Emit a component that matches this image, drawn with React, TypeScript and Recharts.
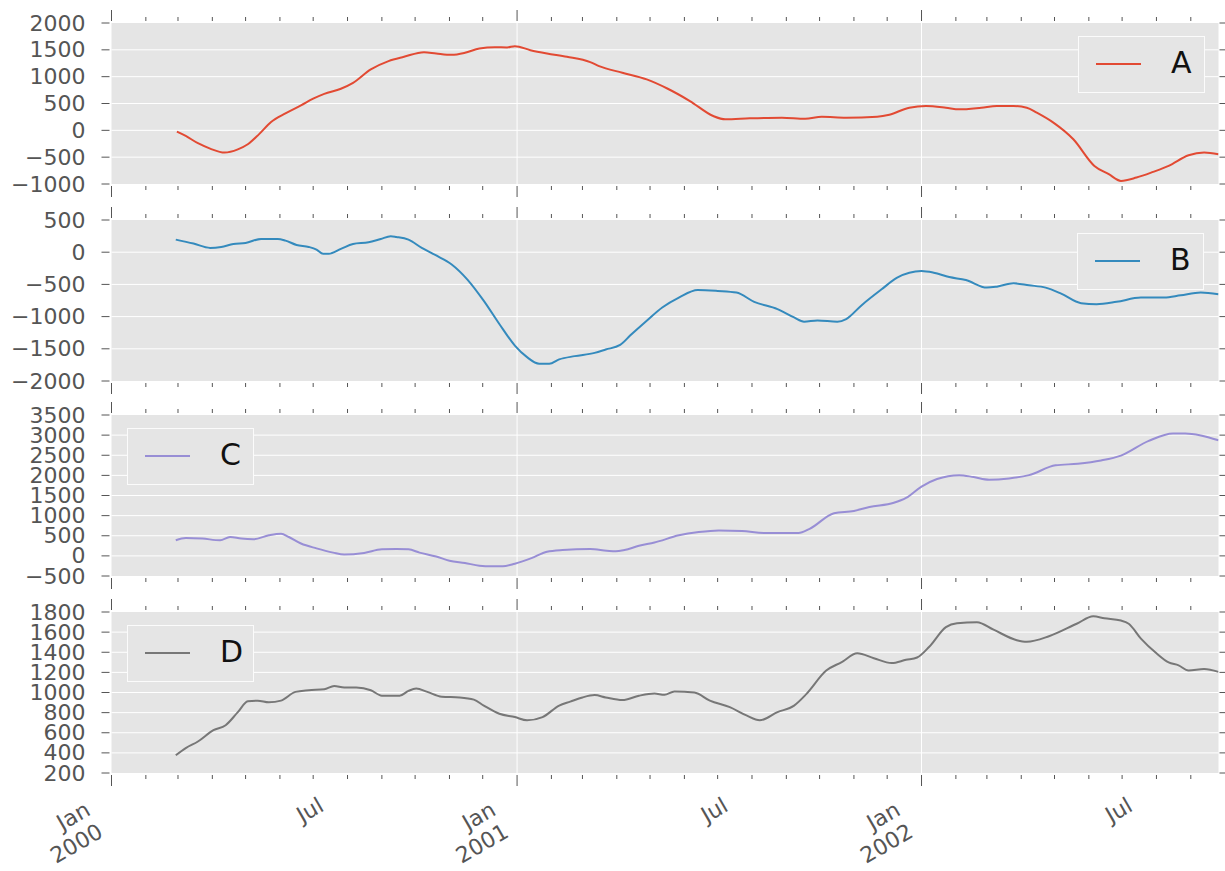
import React from 'react';
import { LineChart, Line, XAxis, YAxis, CartesianGrid, Legend } from 'recharts';

// ---------- data (day offsets from 2000-01-01, rolling values) ----------
const seriesNames = ['A', 'B', 'C', 'D'];
const seriesColors = ['#E24A33', '#348ABD', '#988ED5', '#777777'];

const daysA = [59, 67, 78, 89, 102, 114, 123, 133, 144, 157, 171, 182, 192, 207, 218, 234, 250, 264, 282, 293, 307, 319, 332, 346, 357, 364, 378, 393, 411, 432, 440, 461, 483, 502, 522, 543, 554, 576, 605, 626, 641, 663, 691, 702, 720, 735, 753, 765, 785, 799, 814, 826, 835, 850, 868, 887, 900, 911, 925, 940, 954, 972, 986, 999];
const valuesA = [-25, -105, -240, -340, -415, -355, -260, -75, 155, 316, 465, 590, 680, 775, 885, 1135, 1290, 1370, 1457, 1432, 1407, 1445, 1525, 1550, 1544, 1569, 1494, 1432, 1370, 1271, 1197, 1073, 949, 775, 546, 267, 205, 223, 236, 217, 254, 236, 254, 291, 422, 453, 422, 391, 422, 453, 453, 422, 329, 143, -167, -663, -818, -942, -880, -775, -663, -465, -415, -446];

const daysB = [58, 74, 89, 99, 110, 121, 135, 150, 157, 167, 178, 185, 191, 196, 207, 218, 232, 243, 252, 257, 268, 280, 293, 307, 321, 336, 350, 364, 375, 386, 395, 404, 418, 436, 446, 459, 468, 483, 497, 512, 529, 547, 564, 580, 601, 616, 625, 637, 655, 663, 677, 695, 709, 731, 742, 756, 771, 790, 799, 814, 828, 843, 857, 875, 889, 907, 929, 950, 965, 983, 999];
const valuesB = [195, 134, 67, 82, 128, 144, 206, 206, 180, 113, 82, 41, -26, -26, 51, 128, 154, 206, 247, 236, 195, 67, -51, -190, -421, -756, -1115, -1450, -1630, -1732, -1732, -1665, -1614, -1563, -1511, -1440, -1295, -1064, -858, -704, -586, -601, -627, -771, -884, -1013, -1079, -1059, -1079, -1038, -822, -576, -396, -293, -319, -386, -432, -550, -535, -483, -514, -550, -643, -792, -807, -771, -704, -704, -668, -627, -653];

const daysC = [58, 67, 82, 98, 107, 117, 128, 142, 153, 160, 171, 185, 200, 210, 228, 244, 257, 268, 278, 293, 305, 319, 332, 343, 353, 364, 379, 393, 407, 432, 447, 455, 463, 476, 490, 512, 530, 548, 569, 591, 620, 630, 652, 670, 684, 706, 717, 731, 745, 765, 778, 792, 810, 828, 852, 872, 893, 911, 936, 958, 969, 983, 999];
const valuesC = [388, 445, 429, 388, 469, 429, 413, 510, 550, 469, 307, 186, 81, 32, 73, 162, 170, 162, 81, -16, -121, -178, -243, -259, -259, -194, -57, 105, 146, 170, 129, 113, 146, 251, 332, 510, 591, 631, 615, 566, 566, 671, 1060, 1116, 1213, 1319, 1440, 1723, 1909, 2006, 1958, 1893, 1925, 2006, 2249, 2289, 2370, 2492, 2856, 3042, 3042, 2993, 2872];

const daysD = [58, 67, 78, 92, 103, 114, 123, 132, 142, 153, 166, 178, 192, 201, 210, 221, 234, 244, 260, 268, 275, 285, 298, 314, 327, 336, 350, 364, 375, 389, 404, 414, 425, 436, 446, 461, 476, 490, 499, 508, 526, 540, 558, 573, 585, 601, 616, 627, 645, 659, 673, 688, 704, 717, 727, 738, 753, 763, 781, 796, 817, 826, 846, 871, 886, 896, 911, 918, 929, 943, 954, 963, 972, 986, 999];
const valuesD = [376, 448, 513, 626, 675, 805, 912, 919, 902, 919, 1006, 1023, 1033, 1065, 1049, 1049, 1023, 968, 968, 1016, 1039, 1006, 958, 951, 929, 870, 789, 756, 724, 756, 870, 909, 951, 974, 951, 925, 968, 990, 977, 1010, 1000, 919, 854, 772, 724, 805, 870, 984, 1218, 1302, 1390, 1341, 1292, 1325, 1348, 1455, 1650, 1689, 1699, 1624, 1520, 1504, 1559, 1683, 1757, 1738, 1715, 1683, 1536, 1390, 1299, 1270, 1218, 1234, 1205];

const yTicksA = [-1000, -500, 0, 500, 1000, 1500, 2000];
const yTicksB = [-2000, -1500, -1000, -500, 0, 500];
const yTicksC = [-500, 0, 500, 1000, 1500, 2000, 2500, 3000, 3500];
const yTicksD = [200, 400, 600, 800, 1000, 1200, 1400, 1600, 1800];

const START_DATE = Date.UTC(2000, 0, 1);
const LAST_DAY = 999;
const DAY_MS = 86400000;
const majorGridDays = [366, 731]; // Jan 2001, Jan 2002
const monthLabelNames: Record<number, string> = { 0: 'Jan', 6: 'Jul' };

// ---------- layout ----------
const W = 1225;
const H = 871;
const PLOT_LEFT = 111.5;
const PLOT_RIGHT_PAD = 6.5;
const PLOT_H = 161;
const TOP_PAD = 20;
const TOP_AXIS_H = 16;
const BOTTOM_AXIS_H = 16;
const panelTops = [23, 220, 415, 612];
const legendLefts = [1078, 1077, 127, 127];
const FONT = "'DejaVu Sans', Verdana, sans-serif";
const TICK_COLOR = '#555555';

const monthTicks: number[] = [];
for (let y = 2000; y <= 2002; y++) {
  for (let m = 0; m < 12; m++) {
    const d = Math.round((Date.UTC(y, m, 1) - START_DATE) / DAY_MS);
    if (d <= LAST_DAY) monthTicks.push(d);
  }
}

const dateOf = (d: number) => new Date(START_DATE + d * DAY_MS);

const fmtY = (v: number) => (v < 0 ? '\u2212' + Math.abs(v) : String(v));

const XTick = (props: any) => {
  const { x, y, payload, side, labels } = props;
  const dt = dateOf(payload.value);
  const month = dt.getUTCMonth();
  const major = month === 0;
  const len = major ? 11 : 4;
  const dir = side === 'top' ? -1 : 1;
  const line = (
    <line x1={x} x2={x} y1={y + dir * 2} y2={y + dir * (2 + len)} stroke={TICK_COLOR} strokeWidth={1} />
  );
  let label = null;
  if (labels && monthLabelNames[month] !== undefined) {
    const name = monthLabelNames[month];
    if (major) {
      label = (
        <g transform={`translate(${x - 7},${y + 63}) rotate(-30)`}>
          <text x={0} y={-25.5} textAnchor="end" fontSize={22} fontFamily={FONT} fill={TICK_COLOR}>{name}</text>
          <text x={0} y={0} textAnchor="end" fontSize={22} fontFamily={FONT} fill={TICK_COLOR}>{String(dt.getUTCFullYear())}</text>
        </g>
      );
    } else {
      label = (
        <g transform={`translate(${x + 12},${y + 37}) rotate(-30)`}>
          <text x={0} y={0} textAnchor="end" fontSize={22} fontFamily={FONT} fill={TICK_COLOR}>{name}</text>
        </g>
      );
    }
  }
  return (
    <g>
      {line}
      {label}
    </g>
  );
};

const YTick = (props: any) => {
  const { x, y, payload, side } = props;
  if (side === 'right') {
    return <line x1={x + 1} x2={x + 7} y1={y} y2={y} stroke={TICK_COLOR} strokeWidth={1} />;
  }
  return (
    <g>
      <line x1={x - 2} x2={x - 10} y1={y} y2={y} stroke={TICK_COLOR} strokeWidth={1} />
      <text x={x - 26} y={y} textAnchor="end" dominantBaseline="central" fontSize={22} fontFamily={FONT} fill={TICK_COLOR}>
        {fmtY(payload.value)}
      </text>
    </g>
  );
};

const LegendBox = ({ name, color }: { name: string; color: string }) => (
  <div
    style={{
      width: 127,
      height: 57,
      boxSizing: 'border-box',
      border: '1px solid #fbfbfb',
      background: '#E5E5E5',
      position: 'relative',
    }}
  >
    <div style={{ position: 'absolute', left: 17, top: 26, width: 45, height: 2, background: color }} />
    <span
      style={{
        position: 'absolute',
        left: 92,
        top: 11,
        fontSize: 30,
        lineHeight: 1,
        fontFamily: FONT,
        color: '#111',
      }}
    >
      {name}
    </span>
  </div>
);

const toData = (days: number[], values: number[]) => days.map((d, i) => ({ day: d, value: values[i] }));

const panels = [
  { name: seriesNames[0], color: seriesColors[0], data: toData(daysA, valuesA), ticks: yTicksA },
  { name: seriesNames[1], color: seriesColors[1], data: toData(daysB, valuesB), ticks: yTicksB },
  { name: seriesNames[2], color: seriesColors[2], data: toData(daysC, valuesC), ticks: yTicksC },
  { name: seriesNames[3], color: seriesColors[3], data: toData(daysD, valuesD), ticks: yTicksD },
];

export default function App() {
  return (
    <div style={{ position: 'absolute', left: 0, top: 0, width: W, height: H, background: '#fff', overflow: 'hidden' }}>
      {panels.map((p, i) => {
        const isLast = i === panels.length - 1;
        const chartTop = panelTops[i] - TOP_PAD;
        const bottomSpace = isLast ? H - (panelTops[i] + PLOT_H) : 20;
        const bottomAxisH = isLast ? bottomSpace - 2 : BOTTOM_AXIS_H;
        const chartH = TOP_PAD + PLOT_H + bottomSpace;
        const lo = p.ticks[0];
        const hi = p.ticks[p.ticks.length - 1];
        const inner = p.ticks.slice(1, -1);
        return (
          <div key={p.name} style={{ position: 'absolute', left: 0, top: chartTop }}>
            <LineChart
              width={W}
              height={chartH}
              data={p.data}
              margin={{ top: TOP_PAD - TOP_AXIS_H, right: 0, bottom: bottomSpace - bottomAxisH, left: 0 }}
            >
              <CartesianGrid
                xAxisId="bottom"
                yAxisId="left"
                fill="#E5E5E5"
                fillOpacity={1}
                stroke="#FFFFFF"
                strokeWidth={1}
                horizontalValues={inner}
                verticalValues={majorGridDays}
              />
              <XAxis
                xAxisId="top"
                orientation="top"
                type="number"
                dataKey="day"
                domain={[0, LAST_DAY]}
                ticks={monthTicks}
                interval={0}
                height={TOP_AXIS_H}
                axisLine={false}
                tickLine={false}
                tickSize={0}
                tickMargin={0}
                allowDataOverflow
                tick={<XTick side="top" />}
              />
              <XAxis
                xAxisId="bottom"
                orientation="bottom"
                type="number"
                dataKey="day"
                domain={[0, LAST_DAY]}
                ticks={monthTicks}
                interval={0}
                height={bottomAxisH}
                axisLine={false}
                tickLine={false}
                tickSize={0}
                tickMargin={0}
                allowDataOverflow
                tick={<XTick side="bottom" labels={isLast} />}
              />
              <YAxis
                yAxisId="left"
                orientation="left"
                type="number"
                width={PLOT_LEFT}
                domain={[lo, hi]}
                ticks={p.ticks}
                interval={0}
                axisLine={false}
                tickLine={false}
                tickSize={0}
                tickMargin={0}
                allowDataOverflow
                tick={<YTick side="left" />}
              />
              <YAxis
                yAxisId="right"
                orientation="right"
                type="number"
                width={PLOT_RIGHT_PAD}
                domain={[lo, hi]}
                ticks={p.ticks}
                interval={0}
                axisLine={false}
                tickLine={false}
                tickSize={0}
                tickMargin={0}
                allowDataOverflow
                tick={<YTick side="right" />}
              />
              <Line
                xAxisId="bottom"
                yAxisId="left"
                type="monotone"
                dataKey="value"
                name={p.name}
                stroke={p.color}
                strokeWidth={2}
                dot={false}
                activeDot={false}
                isAnimationActive={false}
              />
              <Legend
                layout="horizontal"
                verticalAlign="middle"
                align="center"
                wrapperStyle={{ left: legendLefts[i], top: TOP_PAD + 13, width: 127, height: 57 }}
                content={() => <LegendBox name={p.name} color={p.color} />}
              />
            </LineChart>
          </div>
        );
      })}
    </div>
  );
}
